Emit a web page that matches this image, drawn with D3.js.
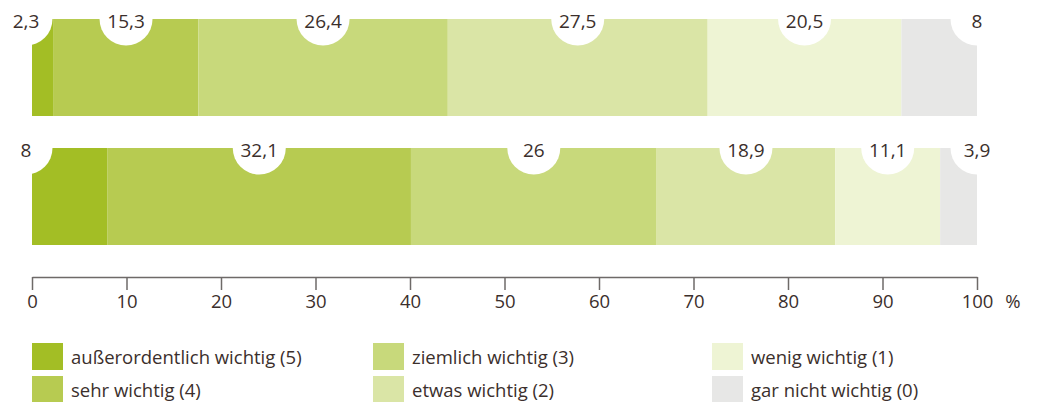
<!DOCTYPE html>
<meta charset="utf-8">
<style>
body { margin: 0; background: #fff; }
text { font-family: "Open Sans", "Noto Sans", sans-serif; fill: #3b2f2c; }
.val { font-size: 19px; text-anchor: middle; }
.axis text { font-size: 18.5px; }
.legend text { font-size: 18.5px; }
</style>
<svg width="1037" height="402"></svg>
<script src="https://d3js.org/d3.v7.min.js"></script>
<script>

var categories = ["außerordentlich wichtig (5)", "sehr wichtig (4)", "ziemlich wichtig (3)",
                  "etwas wichtig (2)", "wenig wichtig (1)", "gar nicht wichtig (0)"];
var colors = ["#a3be25", "#b7cb51", "#c8d97b", "#dae5a6", "#eef4d4", "#e7e7e6"];
var rows = ["A", "B"];
var valuesA = [2.3, 15.3, 26.4, 27.5, 20.5, 8];
var valuesB = [8, 32.1, 26, 18.9, 11.1, 3.9];
var ticks = [0, 10, 20, 30, 40, 50, 60, 70, 80, 90, 100];

var svg = d3.select("svg");

var x = d3.scaleLinear().domain([0, 100]).range([32, 977]);
// two bands of ~97px with a ~32px gap
var y = d3.scaleBand().domain(rows).range([19, 19 + 97 * 2 + 32]).paddingInner(32 / 129);

var table = [valuesA, valuesB].map(function(vals, r) {
  var acc = 0;
  return vals.map(function(v, i) {
    var s = { row: rows[r], i: i, v: v, x0: acc, x1: acc + v };
    acc += v;
    return s;
  });
});

var fmt = function(v) { return String(v).replace(".", ","); };

var gBars = svg.append("g");
var segs = table.flat();

gBars.selectAll("rect")
  .data(segs)
  .enter().append("rect")
    .attr("x", function(d) { return x(d.x0); })
    .attr("y", function(d) { return y(d.row); })
    .attr("width", function(d) { return x(d.x1) - x(d.x0); })
    .attr("height", y.bandwidth())
    .attr("fill", function(d) { return colors[d.i]; });

function labelX(d) {
  if (d.i === 0) return x(0) - 6;
  if (d.i === categories.length - 1) return x(100);
  return x((d.x0 + d.x1) / 2);
}

gBars.selectAll("circle")
  .data(segs)
  .enter().append("circle")
    .attr("cx", labelX)
    .attr("cy", function(d) { return y(d.row); })
    .attr("r", 26.5)
    .attr("fill", "#fff");

gBars.selectAll("text")
  .data(segs)
  .enter().append("text")
    .attr("class", "val")
    .attr("x", labelX)
    .attr("y", function(d) { return y(d.row) + 9; })
    .text(function(d) { return fmt(d.v); });

// axis
var axis = svg.append("g")
    .attr("class", "axis")
    .attr("transform", "translate(0,277)")
    .call(d3.axisBottom(x).tickValues(ticks).tickSize(13).tickSizeOuter(0).tickPadding(5));
axis.select(".domain").attr("stroke", "#6e6a68").attr("stroke-width", 1.5);
axis.selectAll(".tick line").attr("stroke", "#6e6a68").attr("stroke-width", 1.5);
axis.selectAll(".tick text").attr("fill", "#3b2f2c");
axis.append("text")
    .attr("x", 1013)
    .attr("y", 18)
    .attr("dy", "0.71em")
    .attr("text-anchor", "middle")
    .text("%");

// legend
var colX = [32, 373, 712];
var legend = svg.append("g").attr("class", "legend");
var item = legend.selectAll("g")
  .data(categories)
  .enter().append("g")
    .attr("transform", function(d, i) {
      return "translate(" + colX[Math.floor(i / 2)] + "," + (343 + (i % 2) * 33) + ")";
    });
item.append("rect")
    .attr("width", 31)
    .attr("height", 27)
    .attr("fill", function(d, i) { return colors[i]; });
item.append("text")
    .attr("x", 39)
    .attr("y", 21)
    .text(function(d) { return d; });

</script>
